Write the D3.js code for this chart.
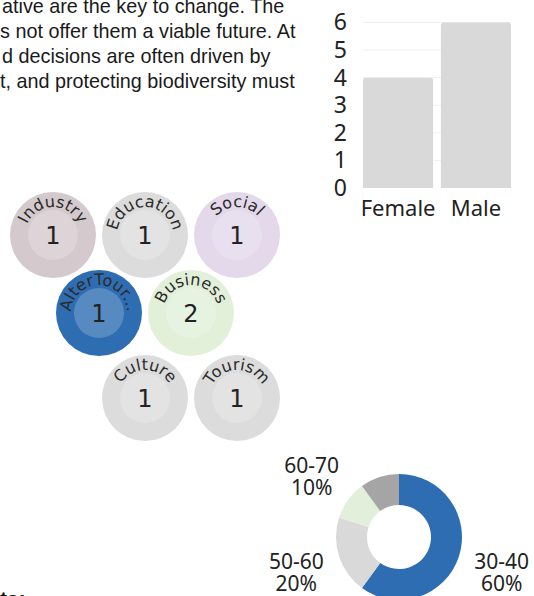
<!DOCTYPE html>
<html><head><meta charset="utf-8">
<script src="https://cdn.jsdelivr.net/npm/d3@7/dist/d3.min.js"></script>
<style>
html,body{margin:0;padding:0;background:#fff;overflow:hidden;}
svg{display:block;}
</style></head>
<body>
<script>
// ---- data ----
const paragraphLines = [
  "ative are the key to change. The",
  "s not offer them a viable future. At",
  "d decisions are often driven by",
  "t, and protecting biodiversity must"
];
const footerText = "ts:";

const genderCategories = ["Female", "Male"];
const genderValues = [4, 6];
const genderTicks = [0, 1, 2, 3, 4, 5, 6];

const sectorNames = ["Industry", "Education", "Social", "AlterTour...", "Business", "Culture", "Tourism"];
const sectorValues = [1, 1, 1, 1, 2, 1, 1];
const sectorColors = ["#d4cacd", "#dcdcdc", "#e3d9ea", "#2f6db3", "#e2f0da", "#dcdcdc", "#dcdcdc"];

const ageGroups = ["30-40", "50-60", "60-70", "Other"];
const agePercents = [60, 20, 10, 10];
const ageColors = ["#2f6db3", "#d9d9d9", "#e2efda", "#a5a5a5"];
const labelledAgeGroups = ["30-40", "50-60", "60-70"];

// ---- svg ----
const W = 534, H = 596;
const svg = d3.select("body").append("svg").attr("width", W).attr("height", H);

// paragraph text
svg.append("g").selectAll("text").data(paragraphLines).join("text")
  .attr("x", (d, i) => [2, 0, 2, 0][i])
  .attr("y", (d, i) => 12.5 + i * 25)
  .attr("font-family", "'Liberation Sans', Arial, sans-serif")
  .attr("font-size", 19.8)
  .attr("fill", "#1a1a1a")
  .text(d => d);

svg.append("text").attr("x", 0).attr("y", 606)
  .attr("font-family", "'Liberation Sans', Arial, sans-serif")
  .attr("font-weight", "bold").attr("font-size", 21).attr("fill", "#111")
  .text(footerText);

// ---- bar chart ----
const x = d3.scaleBand().domain(genderCategories).range([363, 511]).paddingInner(0.1).paddingOuter(0);
const y = d3.scaleLinear().domain([0, 6]).range([188, 22.5]);
const barFont = "'Noto Sans', 'Open Sans', sans-serif";
const bar = svg.append("g");
bar.append("g").selectAll("line").data(genderTicks.slice(1)).join("line")
  .attr("x1", 363).attr("x2", 511)
  .attr("y1", d => y(d)).attr("y2", d => y(d))
  .attr("stroke", "#efefef").attr("stroke-width", 1);
const yAxis = d3.axisLeft(y).tickValues(genderTicks).tickSize(0).tickPadding(0).tickFormat(d3.format("d"));
const yg = bar.append("g").attr("transform", "translate(347,0)").call(yAxis);
yg.select(".domain").remove();
yg.selectAll("text").attr("font-family", barFont).attr("font-size", 23).attr("fill", "#222");
bar.append("g").selectAll("path").data(genderValues).join("path")
  .attr("fill", "#d9d9d9")
  .attr("d", (d, i) => {
    const x0 = x(genderCategories[i]), w = x.bandwidth(), y0 = y(d), y1 = y(0), r = 3;
    return `M${x0},${y1}V${y0 + r}Q${x0},${y0} ${x0 + r},${y0}H${x0 + w - r}Q${x0 + w},${y0} ${x0 + w},${y0 + r}V${y1}Z`;
  });
const xAxis = d3.axisBottom(x).tickSize(0).tickPadding(0);
const xg = bar.append("g").attr("transform", "translate(0,200)").call(xAxis);
xg.select(".domain").remove();
xg.selectAll("text").attr("font-family", barFont).attr("font-size", 22).attr("fill", "#222");

// ---- bubbles ----
const bubbleR = 43, innerR = 25, textR = 28;
const dxB = 92;
const rowY = [235, 313, 398];
const rowSlots = [[0, 1, 2], [0.5, 1.5], [1, 2]];
const slots = [];
rowSlots.forEach((row, ri) => row.forEach(c => slots.push({ x: 53 + c * dxB, y: rowY[ri] })));
const bubbles = sectorNames.map((n, i) => ({ name: n, value: sectorValues[i], color: sectorColors[i], ...slots[i] }));
const bFont = "'DejaVu Sans', sans-serif";
const bg = svg.append("g");
const defs = svg.append("defs");
bubbles.forEach((b, i) => {
  const R = textR;
  defs.append("path").attr("id", "arc" + i)
    .attr("d", `M${b.x},${b.y + R}A${R},${R} 0 0 1 ${b.x},${b.y - R}A${R},${R} 0 0 1 ${b.x},${b.y + R}`);
});
const bgg = bg.selectAll("g").data(bubbles).join("g");
bgg.append("circle").attr("cx", d => d.x).attr("cy", d => d.y).attr("r", bubbleR).attr("fill", d => d.color);
bgg.append("circle").attr("cx", d => d.x).attr("cy", d => d.y).attr("r", innerR).attr("fill", "#fff").attr("fill-opacity", 0.2);
bgg.append("text").attr("x", d => d.x).attr("y", d => d.y + 8.5)
  .attr("text-anchor", "middle").attr("font-family", bFont).attr("font-size", 24).attr("fill", "#222")
  .text(d => d.value);
bgg.append("text").attr("font-family", bFont).attr("font-size", 16).attr("fill", "#2a2a2a")
  .append("textPath").attr("href", (d, i) => "#arc" + i).attr("startOffset", "50%").attr("text-anchor", "middle")
  .text(d => d.name);

// ---- donut ----
const cx = 399, cy = 537;
const pie = d3.pie().sort(null).value(d => d.v);
const ageData = ageGroups.map((g, i) => ({ g, v: agePercents[i], c: ageColors[i] }));
const arcs = pie(ageData);
const arc = d3.arc().innerRadius(32).outerRadius(63);
const labelArc = d3.arc().innerRadius(108).outerRadius(108);
const dg = svg.append("g").attr("transform", `translate(${cx},${cy})`);
dg.selectAll("path").data(arcs).join("path").attr("d", arc).attr("fill", d => d.data.c);
const lg = dg.selectAll("g.lab").data(arcs.filter(a => labelledAgeGroups.includes(a.data.g))).join("g")
  .attr("class", "lab")
  .attr("transform", d => { const [px, py] = labelArc.centroid(d); return `translate(${px},${py})`; });
lg.append("text").attr("y", -1).attr("text-anchor", "middle").attr("font-family", barFont).attr("font-size", 21).attr("fill", "#222").text(d => d.data.g);
lg.append("text").attr("y", 21).attr("text-anchor", "middle").attr("font-family", barFont).attr("font-size", 21).attr("fill", "#222").text(d => d.data.v + "%");
</script>
</body></html>
